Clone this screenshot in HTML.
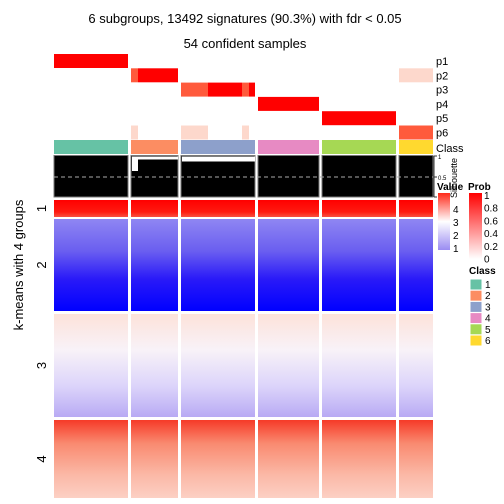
<!DOCTYPE html>
<html><head><meta charset="utf-8"><style>
body{margin:0;background:#fff}
svg{display:block;font-family:"Liberation Sans",sans-serif}
</style></head><body>
<svg id="chart" width="504" height="504" viewBox="0 0 504 504">
<defs>
<linearGradient id="g1" x1="0" y1="0" x2="0" y2="1"><stop offset="0" stop-color="#ff0000"/><stop offset="0.7" stop-color="#ff1a10"/><stop offset="1" stop-color="#f85040"/></linearGradient>
<linearGradient id="g2" x1="0" y1="0" x2="0" y2="1"><stop offset="0" stop-color="#8f86f2"/><stop offset="0.35" stop-color="#6a5ef0"/><stop offset="0.65" stop-color="#2a1af8"/><stop offset="1" stop-color="#0000ff"/></linearGradient>
<linearGradient id="g3" x1="0" y1="0" x2="0" y2="1"><stop offset="0" stop-color="#fde2da"/><stop offset="0.35" stop-color="#f8f2f8"/><stop offset="0.7" stop-color="#dcd4fa"/><stop offset="1" stop-color="#b8aaf4"/></linearGradient>
<linearGradient id="g4" x1="0" y1="0" x2="0" y2="1"><stop offset="0" stop-color="#f63a28"/><stop offset="0.3" stop-color="#f98a70"/><stop offset="0.7" stop-color="#fbb8a6"/><stop offset="1" stop-color="#fcd0c4"/></linearGradient>
<linearGradient id="gv" x1="0" y1="0" x2="0" y2="1"><stop offset="0" stop-color="#ff2a1a"/><stop offset="0.5" stop-color="#ffffff"/><stop offset="1" stop-color="#9a8cf2"/></linearGradient>
<linearGradient id="gp" x1="0" y1="0" x2="0" y2="1"><stop offset="0" stop-color="#ff0000"/><stop offset="1" stop-color="#ffffff"/></linearGradient>
</defs>
<text x="245" y="23" font-size="13" text-anchor="middle">6 subgroups, 13492 signatures (90.3%) with fdr &lt; 0.05</text>
<text x="245" y="48" font-size="13" text-anchor="middle">54 confident samples</text>
<g id="annot"></g>
<g id="sil"></g>
<g id="heat"></g>
<text transform="translate(23,265) rotate(-90)" font-size="13" text-anchor="middle">k-means with 4 groups</text>
<g id="legend"></g>
</svg>
<script>
const colStart=[54,131,181,258,322,399];
const colEnd=[128,178,255,319,396,433];
const classColors=["#66c2a5","#fc8d62","#8da0cb","#e78ac3","#a6d854","#ffd92f"];
const probLabels=["p1","p2","p3","p4","p5","p6"];
// prob segments: [row, x0, x1, color]
const probSegs=[[0,54,128,"#ff0000"],[1,131,138,"#ff5a3c"],[1,138,178,"#ff0000"],[1,399,433,"#fdd8cc"],
[2,181,208,"#ff5a3c"],[2,208,242,"#ff0000"],[2,242,249,"#ff5a3c"],[2,249,255,"#ff0000"],
[3,258,319,"#ff0000"],[4,322,396,"#ff0000"],[5,131,138,"#fdd8cc"],[5,181,208,"#fdd8cc"],[5,242,249,"#fdd8cc"],[5,399,433,"#ff5a3c"]];
const rowGroups=["1","2","3","4"];
const rowTop=[200,219,314,420];
const rowBot=[217,311,417,498];
const valueTicks=["4","3","2","1"];
const probTicks=["1","0.8","0.6","0.4","0.2","0"];
const NS="http://www.w3.org/2000/svg";
function mk(p,t,a){const e=document.createElementNS(NS,t);for(const k in a)e.setAttribute(k,a[k]);p.appendChild(e);return e;}
const annot=document.getElementById('annot');
probLabels.forEach((l,i)=>{const y=54+i*14.3;
 const t=mk(annot,'text',{x:436,y:y+11,'font-size':11});t.textContent=l;
 
 });
probSegs.forEach(s=>{const r=mk(annot,'rect',{x:s[1],y:54+s[0]*14.3,width:s[2]-s[1],height:14,fill:s[3]});
 
 });
classColors.forEach((c,i)=>{const r=mk(annot,'rect',{x:colStart[i],y:140,width:colEnd[i]-colStart[i],height:14,fill:c});
 
 });
const ct=mk(annot,'text',{x:436,y:152,'font-size':11});ct.textContent="Class";


const sil=document.getElementById('sil');
colStart.forEach((x,i)=>{const r=mk(sil,'rect',{x:x,y:155.5,width:colEnd[i]-x,height:41.5,fill:'#000',stroke:'#777','stroke-width':1});
 
 });
[[132,156.5,46,3],[132,156.5,6,14.5],[182,156.5,73,5]].forEach(w=>{const r=mk(sil,'rect',{x:w[0],y:w[1],width:w[2],height:w[3],fill:'#fff'});
 
 });
const dl=mk(sil,'line',{x1:54,x2:433,y1:177,y2:177,stroke:'#aaa','stroke-dasharray':'4,3'});


mk(sil,'line',{x1:434,x2:434,y1:156,y2:197,stroke:'#333'});
[["1",156],["0.5",177],["0",197]].forEach(t=>{mk(sil,'line',{x1:434,x2:437,y1:t[1],y2:t[1],stroke:'#333'});
 const tx=mk(sil,'text',{x:438,y:t[1]+3,'font-size':6});tx.textContent=t[0];
 
 });
const heat=document.getElementById('heat');
rowGroups.forEach((g,j)=>{
 colStart.forEach((x,i)=>{const r=mk(heat,'rect',{x:x,y:rowTop[j],width:colEnd[i]-x,height:rowBot[j]-rowTop[j],fill:'url(#g'+g+')'});
  
  });
 const t=mk(heat,'text',{x:0,y:0,'font-size':13,'text-anchor':'middle',transform:'translate(46,'+((rowTop[j]+rowBot[j])/2)+') rotate(-90)'});
 t.textContent=g;
 
 });
const lg=document.getElementById('legend');
const vt=mk(lg,'text',{x:437,y:190,'font-size':10,'font-weight':'bold'});vt.textContent="Value";

const vb=mk(lg,'rect',{x:438,y:193,width:12,height:57,fill:'url(#gv)'});

valueTicks.forEach((v,i)=>{const y=209+i*13;const t=mk(lg,'text',{x:453,y:y+4,'font-size':10});t.textContent=v;
 });
const pt=mk(lg,'text',{x:468,y:190,'font-size':10,'font-weight':'bold'});pt.textContent="Prob";

const pb=mk(lg,'rect',{x:469,y:193,width:13,height:66,fill:'url(#gp)'});

probTicks.forEach((v,i)=>{const y=195+i*12.7;const t=mk(lg,'text',{x:484,y:y+4,'font-size':10});t.textContent=v;
 });
const st=mk(lg,'text',{transform:'translate(457,198) rotate(-90)','font-size':9});st.textContent="Silhouette";

const clt=mk(lg,'text',{x:469,y:274,'font-size':10,'font-weight':'bold'});clt.textContent="Class";

classColors.forEach((c,i)=>{const y=279+i*11.2;const r=mk(lg,'rect',{x:470,y:y,width:12,height:11,fill:c,stroke:'#fff'});
 
 const t=mk(lg,'text',{x:485,y:y+9,'font-size':10});t.textContent=String(i+1);
 });
</script>
</body></html>
